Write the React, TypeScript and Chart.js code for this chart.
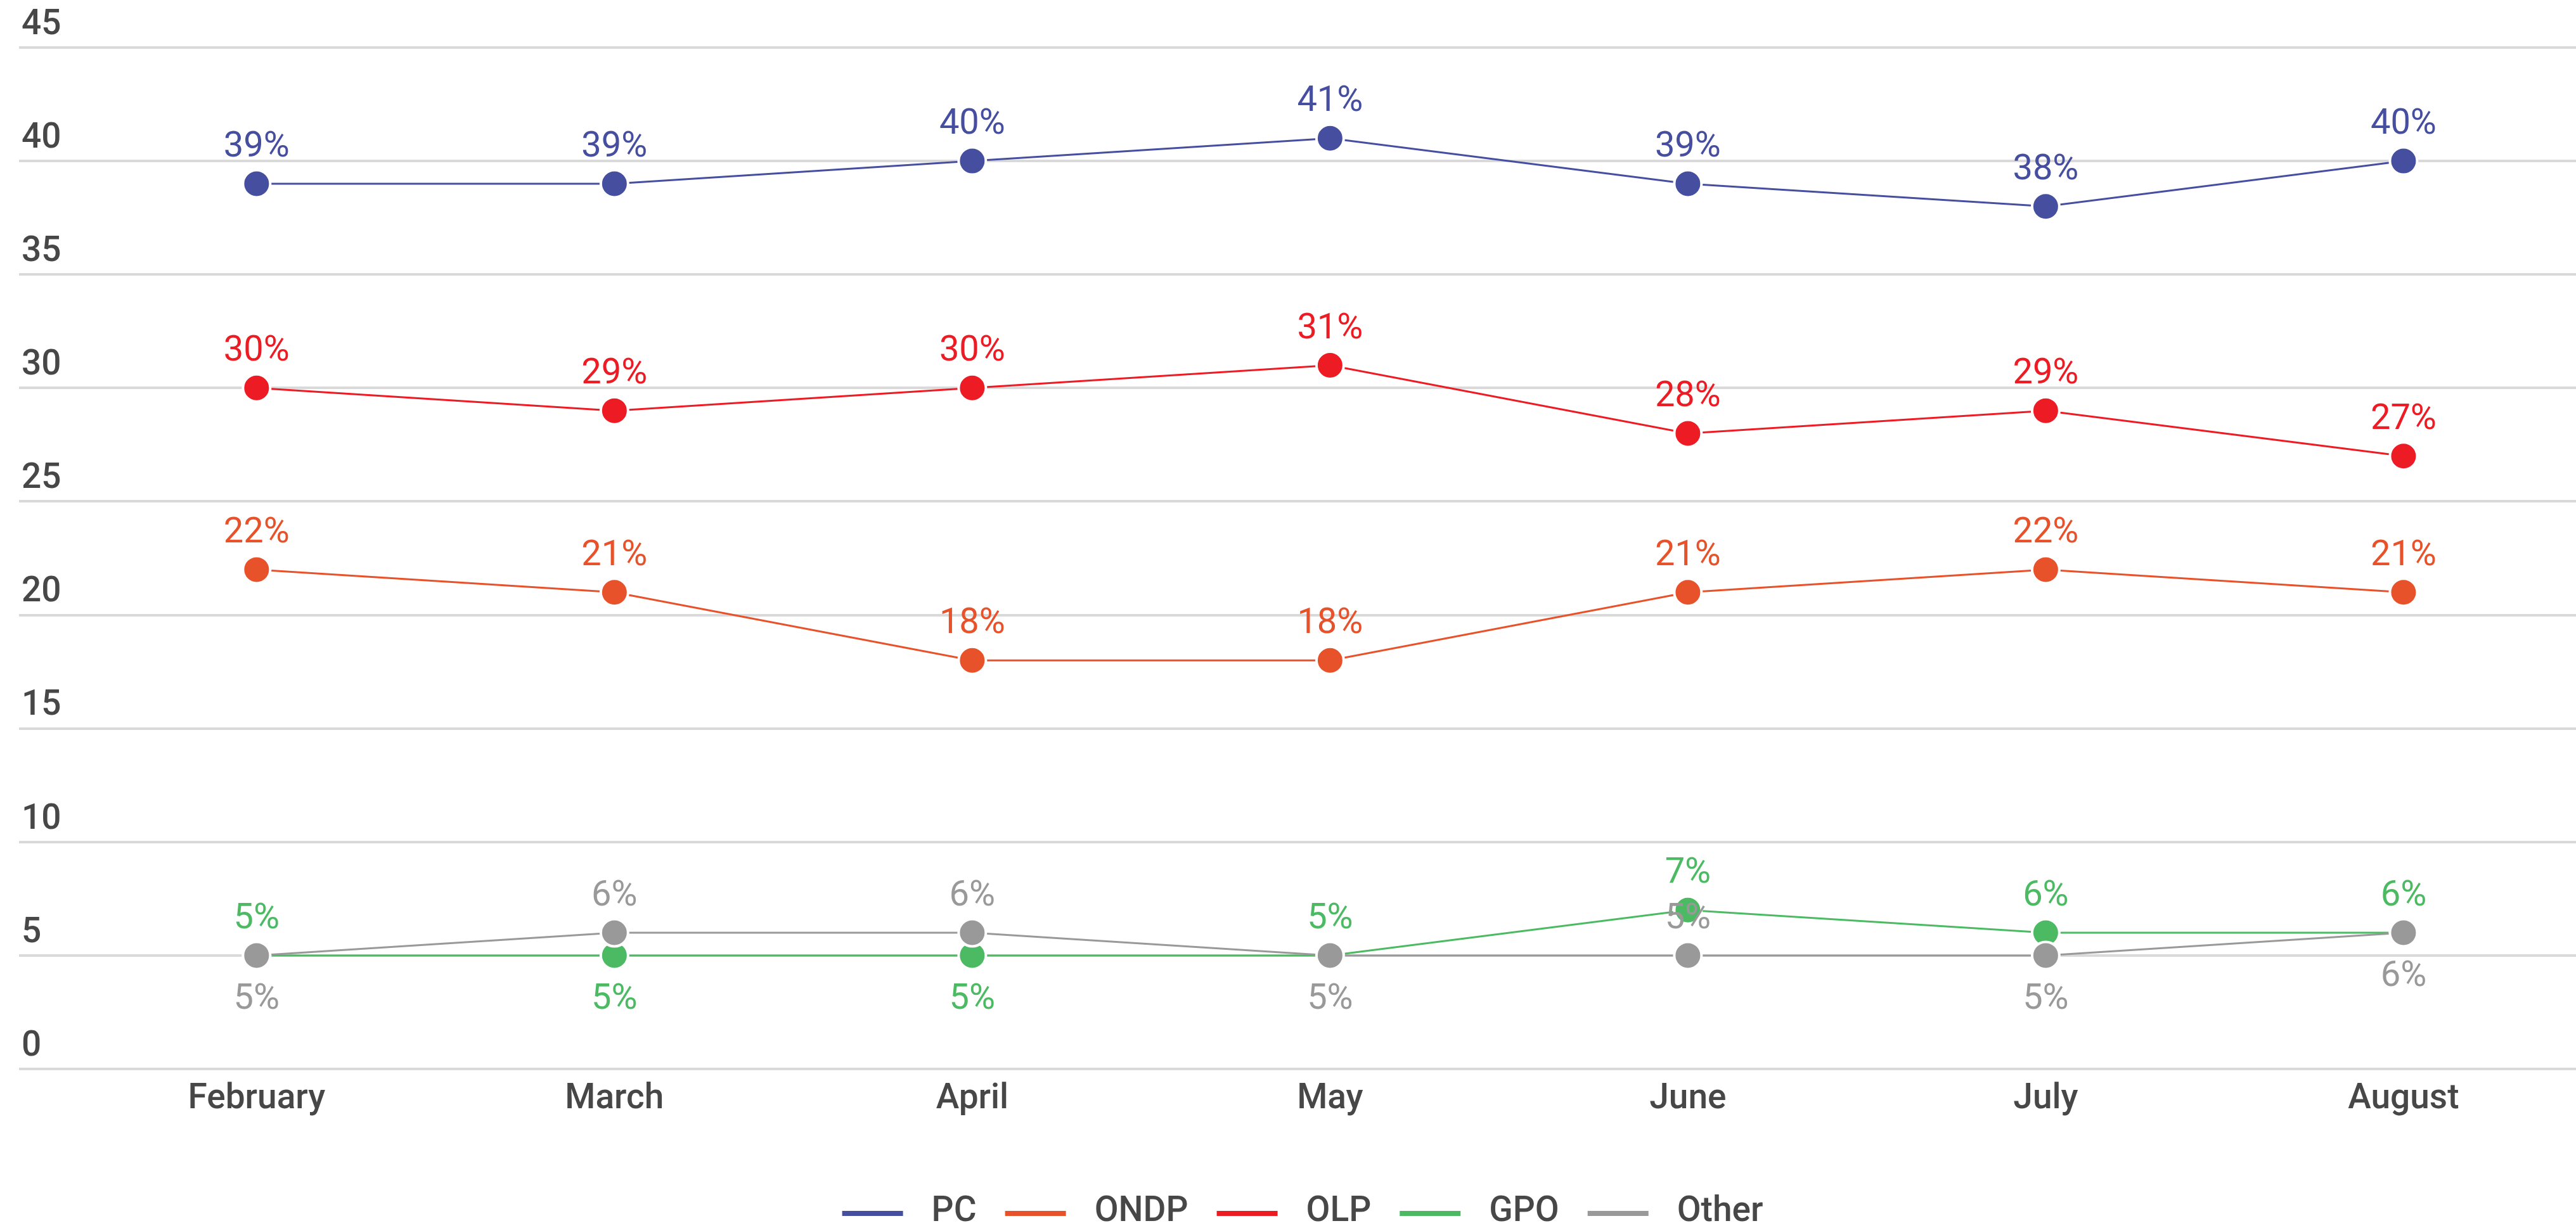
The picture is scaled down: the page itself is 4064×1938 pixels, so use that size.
import React, { useEffect, useRef } from 'react';
import { Chart, registerables } from 'chart.js';

Chart.register(...registerables);

// ---- data ----
const months = ['February', 'March', 'April', 'May', 'June', 'July', 'August'];
const seriesNames = ['PC', 'ONDP', 'OLP', 'GPO', 'Other'];
const pcValues = [39, 39, 40, 41, 39, 38, 40];
const ondpValues = [22, 21, 18, 18, 21, 22, 21];
const olpValues = [30, 29, 30, 31, 28, 29, 27];
const gpoValues = [5, 5, 5, 5, 7, 6, 6];
const otherValues = [5, 6, 6, 5, 5, 5, 6];
const yTickMin = 0;
const yTickMax = 45;
const yTickStep = 5;

// ---- styling ----
const seriesColors = ['#464EA0', '#E8522A', '#ED1C24', '#4CB963', '#999999'];
const A = 'above';
const B = 'below';
const labelPlacement = [
  [A, A, A, A, A, A, A],
  [A, A, A, A, A, A, A],
  [A, A, A, A, A, A, A],
  [A, B, B, A, A, A, A],
  [B, A, A, B, A, B, B],
];
const textColor = '#474747';
const gridColor = '#d9d9d9';
const FONT = 'Roboto';
const xMin = -0.664;
const xMax = 6.482;

const dataLabelPlugin = {
  id: 'pointValueLabels',
  afterDatasetsDraw(chart: any) {
    const ctx = chart.ctx;
    ctx.save();
    ctx.font = `400 56px ${FONT}`;
    ctx.textAlign = 'center';
    ctx.textBaseline = 'alphabetic';
    chart.data.datasets.forEach((ds: any, di: number) => {
      const meta = chart.getDatasetMeta(di);
      meta.data.forEach((pt: any, i: number) => {
        const v = ds.data[i].y;
        ctx.fillStyle = ds.borderColor;
        const below = labelPlacement[di][i] === B;
        ctx.fillText(`${v}%`, pt.x, below ? pt.y + 84 : pt.y - 43);
      });
    });
    ctx.restore();
  },
};

const legendPlugin = {
  id: 'customBottomLegend',
  afterDraw(chart: any) {
    const ctx = chart.ctx;
    ctx.save();
    ctx.font = `500 55px ${FONT}`;
    ctx.textBaseline = 'middle';
    ctx.textAlign = 'left';
    const boxW = 96;
    const gap = 45;
    const lineThickness = 8;
    const items = chart.data.datasets.map((ds: any) => ({
      text: ds.label,
      color: ds.borderColor,
      w: ctx.measureText(ds.label).width,
    }));
    const total =
      items.reduce((s: number, it: any) => s + boxW + gap + it.w, 0) + gap * (items.length - 1);
    const center = (chart.chartArea.left + chart.chartArea.right) / 2 + 8;
    let x = center - total / 2;
    const y = chart.height - 25;
    items.forEach((it: any) => {
      ctx.fillStyle = it.color;
      ctx.fillRect(x, y + 2 - lineThickness / 2, boxW, lineThickness);
      x += boxW + gap;
      ctx.fillStyle = textColor;
      ctx.fillText(it.text, x, y);
      x += it.w + gap;
    });
    ctx.restore();
  },
};

export default function App() {
  const canvasRef = useRef<HTMLCanvasElement | null>(null);

  useEffect(() => {
    if (!canvasRef.current) return;
    const valueSets = [pcValues, ondpValues, olpValues, gpoValues, otherValues];
    const datasets = seriesNames.map((name, idx) => ({
      label: name,
      data: valueSets[idx].map((v, i) => ({ x: i, y: v })),
      borderColor: seriesColors[idx],
      backgroundColor: seriesColors[idx],
      borderWidth: 3,
      pointRadius: 21.5,
      pointHoverRadius: 21.5,
      pointBorderWidth: 4,
      pointBorderColor: '#ffffff',
      pointBackgroundColor: seriesColors[idx],
      tension: 0,
      fill: false,
      clip: false,
      order: seriesNames.length - 1 - idx,
    }));

    const chart = new Chart(canvasRef.current, {
      type: 'line',
      data: { datasets },
      options: {
        animation: false,
        responsive: false,
        maintainAspectRatio: false,
        devicePixelRatio: 1,
        layout: { autoPadding: false, padding: { left: 30, top: 75, right: 0, bottom: 0 } },
        plugins: {
          legend: { display: false },
          tooltip: { enabled: false },
          title: { display: false },
        },
        scales: {
          x: {
            type: 'linear',
            min: xMin,
            max: xMax,
            afterBuildTicks: (s: any) => {
              s.ticks = months.map((_, i) => ({ value: i }));
            },
            afterFit: (s: any) => {
              s.height = 251;
              s.paddingLeft = 0;
              s.paddingRight = 0;
            },
            ticks: {
              autoSkip: false,
              maxRotation: 0,
              padding: 15,
              color: textColor,
              font: { family: FONT, size: 55, weight: 500 },
              callback: (v: any) => months[v as number],
            },
            grid: { display: false, drawTicks: false },
            border: { display: false },
          },
          y: {
            min: yTickMin,
            max: yTickMax,
            afterFit: (s: any) => {
              s.width = 0;
              s.paddingTop = 0;
              s.paddingBottom = 0;
            },
            ticks: {
              stepSize: yTickStep,
              mirror: true,
              padding: 4,
              labelOffset: -35,
              color: textColor,
              font: { family: FONT, size: 55, weight: 500 },
            },
            grid: { color: gridColor, lineWidth: 4, drawTicks: false },
            border: { display: false },
          },
        },
      } as any,
      plugins: [dataLabelPlugin, legendPlugin],
    });
    return () => chart.destroy();
  }, []);

  return (
    <div style={{ position: 'absolute', left: 0, top: 0, width: 4064, height: 1938, background: '#ffffff' }}>
      <canvas ref={canvasRef} width={4064} height={1938} style={{ display: 'block' }} />
    </div>
  );
}
